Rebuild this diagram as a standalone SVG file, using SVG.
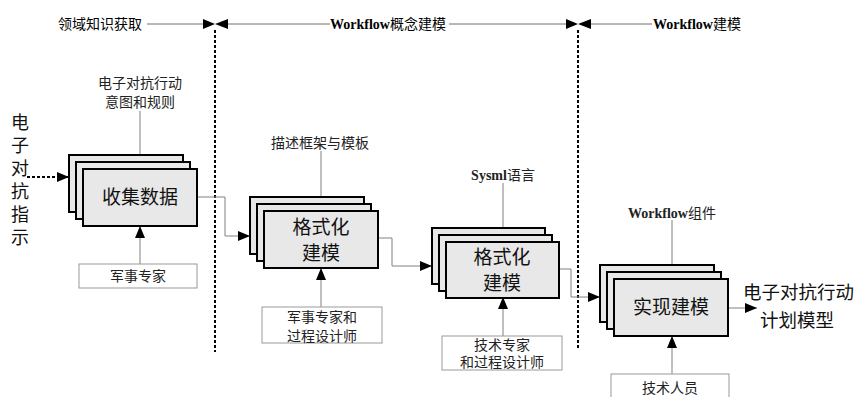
<svg xmlns="http://www.w3.org/2000/svg" width="856" height="397" viewBox="0 0 856 397">
<defs>
<marker id="ah" markerWidth="12" markerHeight="10" refX="12" refY="5" orient="auto" markerUnits="userSpaceOnUse">
<path d="M0,0 L12,5 L0,10 Z" fill="#000"/>
</marker>
</defs>
<style>
.cn{font-family:"Liberation Serif","Noto Sans CJK SC",serif;}
.hd{font-size:14px;fill:#000;}
.b{font-weight:bold;}
.lbl{font-family:"Liberation Serif","Noto Sans CJK SC",serif;font-size:14px;fill:#222;text-anchor:middle;}
.big{font-family:"Noto Sans CJK SC",sans-serif;font-size:19px;fill:#111;text-anchor:middle;}
.vt{font-family:"Noto Sans CJK SC",sans-serif;font-size:18px;fill:#111;writing-mode:vertical-rl;letter-spacing:5px;}
.stk{fill:#e8e8e8;stroke:#000;stroke-width:2;}
.pbox{fill:#fff;stroke:#999;stroke-width:1;}
.con{fill:none;stroke:#808080;stroke-width:1;}
.hl{fill:none;stroke:#707070;stroke-width:1;}
.dot{fill:none;stroke:#000;stroke-width:2;stroke-dasharray:3,2;}
.bt{fill:#000;}
</style>
<rect width="856" height="397" fill="#fff"/>
<g id="header">
<text class="cn hd" x="58" y="29">领域知识获取</text>
<line class="hl" x1="147" y1="24" x2="203" y2="24"/>
<path class="bt" d="M203,19 L215,24 L203,29 Z M228,19 L215,24 L228,29 Z"/>
<line class="hl" x1="228" y1="24" x2="330" y2="24"/>
<text class="cn hd" x="330" y="29"><tspan class="b">Workflow</tspan>概念建模</text>
<line class="hl" x1="449" y1="24" x2="566" y2="24"/>
<path class="bt" d="M566,19 L578,24 L566,29 Z M591,19 L578,24 L591,29 Z"/>
<line class="hl" x1="591" y1="24" x2="652" y2="24"/>
<text class="cn hd" x="653" y="29"><tspan class="b">Workflow</tspan>建模</text>
<line class="dot" x1="215" y1="30" x2="215" y2="352"/>
<line class="dot" x1="578" y1="30" x2="578" y2="348"/>
</g>
<g id="connectors">
<line x1="27" y1="177" x2="69" y2="177" stroke="#000" stroke-width="2" stroke-dasharray="3,2" marker-end="url(#ah)"/>
<line class="con" x1="140" y1="111" x2="140" y2="169" marker-end="url(#ah)"/>
<line class="con" x1="140" y1="264" x2="140" y2="226" marker-end="url(#ah)"/>
<path class="con" d="M197,197 H225 V236 H250" marker-end="url(#ah)"/>
<line class="con" x1="321" y1="151" x2="321" y2="211" marker-end="url(#ah)"/>
<line class="con" x1="321" y1="307" x2="321" y2="268" marker-end="url(#ah)"/>
<path class="con" d="M378,238 H392 V266 H432" marker-end="url(#ah)"/>
<line class="con" x1="503" y1="183" x2="503" y2="242" marker-end="url(#ah)"/>
<line class="con" x1="503" y1="336" x2="503" y2="297" marker-end="url(#ah)"/>
<path class="con" d="M559,269 H571 V297 H600" marker-end="url(#ah)"/>
<line class="con" x1="672" y1="220" x2="672" y2="279" marker-end="url(#ah)"/>
<line class="con" x1="672" y1="374" x2="672" y2="336" marker-end="url(#ah)"/>
<line class="con" x1="728" y1="308" x2="757" y2="308" marker-end="url(#ah)"/>
</g>
<g id="input-left">
<text class="vt" x="20" y="113">电子对抗指示</text>
</g>
<g id="node1">
<rect class="stk" x="69" y="155" width="114" height="57"/>
<rect class="stk" x="76" y="162" width="114" height="57"/>
<rect class="stk" x="83" y="169" width="114" height="57"/>
<text class="big" x="140" y="204">收集数据</text>
<text class="lbl" x="140" y="88">电子对抗行动</text>
<text class="lbl" x="140" y="107">意图和规则</text>
</g>
<g id="p1">
<rect class="pbox" x="79" y="264" width="118" height="24"/>
<text class="lbl" x="138" y="281" fill="#444">军事专家</text>
</g>
<g id="node2">
<rect class="stk" x="250" y="197" width="114" height="57"/>
<rect class="stk" x="257" y="204" width="114" height="57"/>
<rect class="stk" x="264" y="211" width="114" height="57"/>
<text class="big" x="321" y="234"><tspan x="321">格式化</tspan><tspan x="321" dy="26">建模</tspan></text>
<text class="lbl" x="320" y="148">描述框架与模板</text>
</g>
<g id="p2">
<rect class="pbox" x="262" y="307" width="120" height="36"/>
<text class="lbl" x="322" y="322">军事专家和</text>
<text class="lbl" x="322" y="341">过程设计师</text>
</g>
<g id="node3">
<rect class="stk" x="432" y="228" width="113" height="56"/>
<rect class="stk" x="439" y="235" width="113" height="56"/>
<rect class="stk" x="446" y="242" width="113" height="56"/>
<text class="big" x="502" y="264"><tspan x="502">格式化</tspan><tspan x="502" dy="26">建模</tspan></text>
<text class="lbl" x="503" y="180"><tspan class="b">Sysml</tspan>语言</text>
</g>
<g id="p3">
<rect class="pbox" x="442" y="336" width="120" height="34"/>
<text class="lbl" x="502" y="350">技术专家</text>
<text class="lbl" x="502" y="367">和过程设计师</text>
</g>
<g id="node4">
<rect class="stk" x="600" y="265" width="114" height="57"/>
<rect class="stk" x="607" y="272" width="114" height="57"/>
<rect class="stk" x="614" y="279" width="114" height="57"/>
<text class="big" x="671" y="314">实现建模</text>
<text class="lbl" x="672" y="218"><tspan class="b">Workflow</tspan>组件</text>
</g>
<g id="p4">
<rect class="pbox" x="611" y="374" width="118" height="30"/>
<text class="lbl" x="670" y="393">技术人员</text>
</g>
<g id="output">
<text class="big" x="743" y="299" style="font-size:18.5px;text-anchor:start">电子对抗行动</text>
<text class="big" x="760" y="327" style="font-size:18.5px;text-anchor:start">计划模型</text>
</g>
</svg>
